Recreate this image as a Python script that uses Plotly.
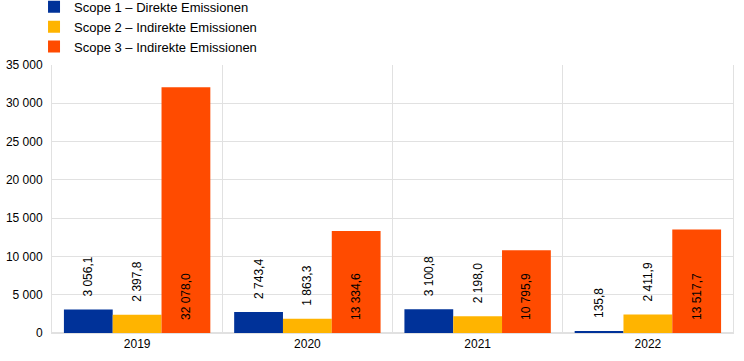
import plotly.graph_objects as go

years = ["2019", "2020", "2021", "2022"]
scope1 = [3056.1, 2743.4, 3100.8, 135.8]
scope2 = [2397.8, 1863.3, 2198.0, 2411.9]
scope3 = [32078.0, 13334.6, 10795.9, 13517.7]
names = ["Scope 1 – Direkte Emissionen", "Scope 2 – Indirekte Emissionen", "Scope 3 – Indirekte Emissionen"]
colors = ["#003299", "#FFB400", "#FF4B00"]
y_ticks = [0, 5000, 10000, 15000, 20000, 25000, 30000, 35000]

def fmt(v, pad):
    s = f"{v:,.1f}"
    s = s.replace(",", " ").replace(".", ",")
    return "\u00a0" * pad + s

fig = go.Figure()
for name, vals, col, pos, pad in zip(names, [scope1, scope2, scope3], colors,
                                     ["outside", "outside", "inside"], [3, 3, 3]):
    fig.add_trace(go.Bar(
        x=years, y=vals, name=name, marker=dict(color=col, line=dict(width=0)),
        text=[fmt(v, pad) for v in vals], textposition=pos, insidetextanchor="start",
        textangle=-90, constraintext="none", cliponaxis=False,
        textfont=dict(family="Liberation Sans, Arial, sans-serif", size=12, color="#000000"),
    ))

grid = "#e1e1e1"
fig.update_layout(
    width=744, height=361,
    margin=dict(l=52, r=11, t=65, b=28, autoexpand=False),
    paper_bgcolor="white", plot_bgcolor="white",
    font=dict(family="Liberation Sans, Arial, sans-serif", size=12, color="#000000"),
    barmode="group", bargap=0.14, bargroupgap=0,
    separators=", ",
    legend=dict(x=-0.0264, y=1.273, xanchor="left", yanchor="top", orientation="v",
                itemwidth=30, tracegroupgap=0, font=dict(size=13),
                bgcolor="rgba(0,0,0,0)"),
    showlegend=True,
)
fig.update_xaxes(type="category", tickson="boundaries", showgrid=True, gridcolor=grid, gridwidth=1,
                 ticks="", showline=True, linecolor=grid, linewidth=1)
fig.update_yaxes(range=[0, 35000], tickvals=y_ticks, tickformat=",d", showgrid=True, gridcolor=grid,
                 gridwidth=1, zeroline=True, zerolinecolor=grid, showline=True, mirror=True,
                 linecolor=grid, ticks="", ticklen=0, ticklabelstandoff=6)
fig.write_html("out.html", config={"displayModeBar": False},
               post_script="document.body.style.margin='0';document.body.style.overflow='hidden';")
